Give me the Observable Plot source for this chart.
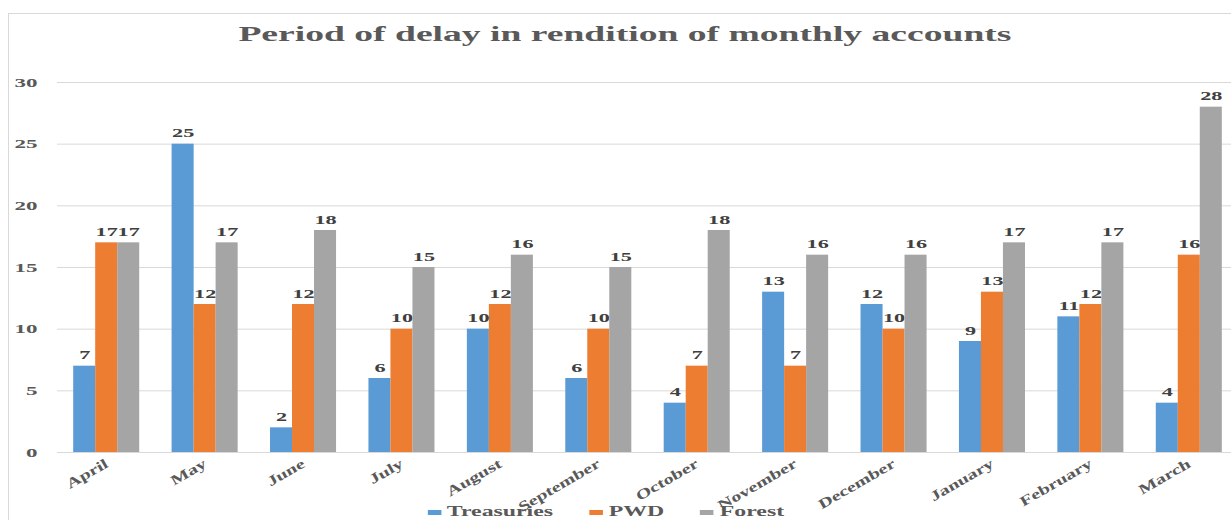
<!DOCTYPE html>
<html>
<head>
<meta charset="utf-8">
<script src="https://cdn.jsdelivr.net/npm/d3@7"></script>
<script src="https://cdn.jsdelivr.net/npm/@observablehq/plot@0.6"></script>
<style>
  body { margin: 0; background: #fff; }
  #wrap { position: relative; width: 1231px; height: 520px; overflow: hidden; font-family: "Liberation Serif", "Times New Roman", serif; }
  #frame { position: absolute; left: 8px; top: 13px; width: 1400px; height: 700px; border: 1px solid #d9d9d9; box-sizing: border-box; }
  #title { position: absolute; left: 0; top: 0; width: 1250px; height: 60px; text-align: center; }
  #title span { display: inline-block; margin-top: 24px; font-size: 21px; line-height: 1; font-weight: bold; color: #595959; transform: scaleX(1.79); transform-origin: 50% 50%; white-space: nowrap; }
  #chart { position: absolute; left: 0; top: 60px; }
  #legend { position: absolute; left: 0; top: 502px; width: 1211px; text-align: center; }
  #legend .inner { display: inline-block; transform: scaleX(1.7); transform-origin: 50% 50%; white-space: nowrap; font-size: 14px; line-height: 1; font-weight: bold; color: #595959; }
  #legend .item { display: inline-block; margin: 0 10.5px; }
  #legend .sw { display: inline-block; width: 8.2px; height: 5px; margin-right: 3.5px; vertical-align: 1px; }
</style>
</head>
<body>
<div id="wrap">
  <div id="frame"></div>
  <div id="title"><span></span></div>
  <div id="chart"></div>
  <div id="legend"><div class="inner"></div></div>
</div>
<script>
const titleText = "Period of delay in rendition of monthly accounts";
const months = ["April", "May", "June", "July", "August", "September", "October", "November", "December", "January", "February", "March"];
const seriesNames = ["Treasuries", "PWD", "Forest"];
const treasuries = [7, 25, 2, 6, 10, 6, 4, 13, 12, 9, 11, 4];
const pwd = [17, 12, 12, 10, 12, 10, 7, 7, 10, 13, 12, 16];
const forest = [17, 17, 18, 15, 16, 15, 18, 16, 16, 17, 17, 28];
const seriesColors = ["#5b9bd5", "#ed7d31", "#a5a5a5"];
const yTicks = [0, 5, 10, 15, 20, 25, 30];

const seriesValues = [treasuries, pwd, forest];
const rows = months.flatMap((m, i) => seriesNames.map((s, k) => ({month: m, series: s, value: seriesValues[k][i]})));
const bySeries = s => rows.filter(d => d.series === s);

document.querySelector("#title span").textContent = titleText;

const barMark = (s, k) => Plot.barY(bySeries(s), {
  x: "month", y: "value", fill: "series",
  insetLeft: 22 * k, insetRight: 22 * (2 - k)
});
const labelMark = (s, k) => Plot.text(bySeries(s), {
  x: "month", y: "value", text: d => String(d.value),
  dx: (k - 1) * 22, dy: -7, lineAnchor: "bottom",
  fill: "#404040", fontSize: 12, fontWeight: "bold"
});

const chart = Plot.plot({
  width: 1231,
  height: 460,
  marginTop: 22,
  marginBottom: 68,
  marginLeft: 57,
  marginRight: -7,
  style: {fontFamily: "'Liberation Serif', 'Times New Roman', serif", fontWeight: "bold", background: "transparent"},
  x: {domain: months, paddingInner: 0.329, paddingOuter: 0.1645, round: false},
  y: {domain: [0, 30]},
  color: {domain: seriesNames, range: seriesColors},
  marks: [
    Plot.gridY(yTicks, {stroke: "#d9d9d9", strokeOpacity: 1, strokeWidth: 1}),
    Plot.axisY(yTicks, {tickSize: 0, tickPadding: 20, label: null, fill: "#595959", fontSize: 13, fontWeight: "bold"}),
    Plot.axisX({tickSize: 0, tickPadding: 10, tickRotate: -30, label: null, fill: "#595959", fontSize: 14, fontWeight: "bold"}),
    barMark("Treasuries", 0),
    barMark("PWD", 1),
    labelMark("Treasuries", 0),
    labelMark("PWD", 1),
    barMark("Forest", 2),
    labelMark("Forest", 2)
  ]
});
document.getElementById("chart").appendChild(chart);

// horizontally stretch the text like the reference rendering
function stretch(selector, k) {
  chart.querySelectorAll(selector).forEach(t => {
    const len = t.getComputedTextLength();
    if (len > 0) {
      t.setAttribute("textLength", (len * k).toFixed(2));
      t.setAttribute("lengthAdjust", "spacingAndGlyphs");
    }
  });
}
stretch('g[aria-label="y-axis tick label"] text', 1.77);
stretch('g[aria-label="x-axis tick label"] text', 1.42);
stretch('g[aria-label="text"] text', 1.85);

// legend
const inner = document.querySelector("#legend .inner");
seriesNames.forEach((s, k) => {
  const item = document.createElement("span");
  item.className = "item";
  const sw = document.createElement("span");
  sw.className = "sw";
  sw.style.background = seriesColors[k];
  item.appendChild(sw);
  item.appendChild(document.createTextNode(s));
  inner.appendChild(item);
});
</script>
</body>
</html>
